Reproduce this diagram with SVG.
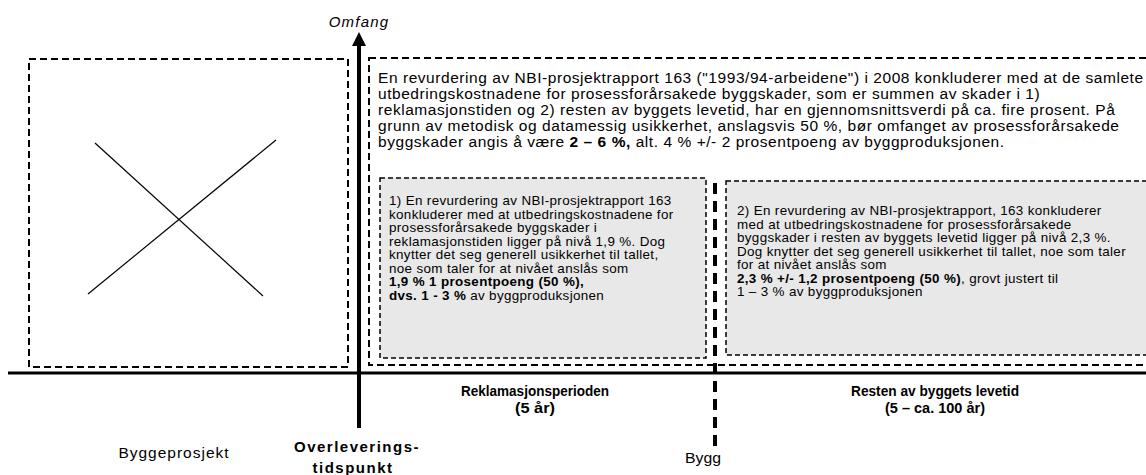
<svg xmlns="http://www.w3.org/2000/svg" width="1146" height="475" viewBox="0 0 1146 475">
<defs>
<style>
.dash{fill:none;stroke:#000;stroke-width:2;stroke-dasharray:7,4}
.gray{fill:#e8e8e8;stroke:#000;stroke-width:1.5;stroke-dasharray:5,3}
.t{font-family:"Liberation Sans",Arial,sans-serif;fill:#000}
.m{font-size:15.5px;letter-spacing:0.55px}
.s{font-size:13.4px;letter-spacing:0.35px}
.b{font-weight:bold}
.n{font-family:"Liberation Sans",Arial,sans-serif;fill:#000;font-size:15.5px;font-weight:bold}
</style>
</defs>
<rect width="1146" height="475" fill="#fff"/>
<g id="byggeprosjekt-box">
<rect class="dash" x="29" y="59" width="319" height="308"/>
<line x1="95" y1="143" x2="263" y2="296" stroke="#000" stroke-width="1.2"/>
<line x1="88" y1="294" x2="276" y2="140" stroke="#000" stroke-width="1.2"/>
</g>
<g id="main-box">
<rect class="dash" x="369" y="58" width="800" height="307"/>
<text class="t m">
<tspan x="378" y="83">En revurdering av NBI-prosjektrapport 163 ("1993/94-arbeidene") i 2008 konkluderer med at de samlete</tspan>
<tspan x="378" y="99">utbedringskostnadene for prosessforårsakede byggskader, som er summen av skader i 1)</tspan>
<tspan x="378" y="115">reklamasjonstiden og 2) resten av byggets levetid, har en gjennomsnittsverdi på ca. fire prosent. På</tspan>
<tspan x="378" y="131">grunn av metodisk og datamessig usikkerhet, anslagsvis 50 %, bør omfanget av prosessforårsakede</tspan>
<tspan x="378" y="147">byggskader angis å være <tspan class="b">2 – 6 %,</tspan> alt. 4 % +/- 2 prosentpoeng av byggproduksjonen.</tspan>
</text>
</g>
<g id="reklamasjon-box">
<rect class="gray" x="380" y="178" width="326" height="180"/>
<text class="t s">
<tspan x="389" y="205">1) En revurdering av NBI-prosjektrapport 163</tspan>
<tspan x="389" y="218.5">konkluderer med at utbedringskostnadene for</tspan>
<tspan x="389" y="232">prosessforårsakede byggskader i</tspan>
<tspan x="389" y="245.5">reklamasjonstiden ligger på nivå 1,9 %. Dog</tspan>
<tspan x="389" y="259">knytter det seg generell usikkerhet til tallet,</tspan>
<tspan x="389" y="272.5">noe som taler for at nivået anslås som</tspan>
<tspan x="389" y="286" class="b">1,9 % 1 prosentpoeng (50 %),</tspan>
<tspan x="389" y="299.5"><tspan class="b">dvs. 1 - 3 %</tspan> av byggproduksjonen</tspan>
</text>
</g>
<g id="levetid-box">
<rect class="gray" x="726" y="181" width="440" height="174"/>
<text class="t s">
<tspan x="737" y="215">2) En revurdering av NBI-prosjektrapport, 163 konkluderer</tspan>
<tspan x="737" y="228.5">med at utbedringskostnadene for prosessforårsakede</tspan>
<tspan x="737" y="242">byggskader i resten av byggets levetid ligger på nivå 2,3 %.</tspan>
<tspan x="737" y="255.5">Dog knytter det seg generell usikkerhet til tallet, noe som taler</tspan>
<tspan x="737" y="269">for at nivået anslås som</tspan>
<tspan x="737" y="282.5"><tspan class="b">2,3 % +/- 1,2 prosentpoeng (50 %)</tspan>, grovt justert til</tspan>
<tspan x="737" y="296">1 – 3 % av byggproduksjonen</tspan>
</text>
</g>
<g id="connectors">
<line x1="8" y1="373" x2="1146" y2="373" stroke="#000" stroke-width="3"/>
<line x1="359" y1="428" x2="359" y2="44" stroke="#000" stroke-width="4"/>
<polygon points="359,32 352,46 366,46" fill="#000"/>
<line x1="715" y1="183" x2="715" y2="446" stroke="#000" stroke-width="4" stroke-dasharray="11,7"/>
</g>
<g id="labels">
<text class="t" x="359" y="27" font-size="15" font-style="italic" text-anchor="middle" letter-spacing="1.2">Omfang</text>
<text class="t" x="174" y="458" font-size="15.5" text-anchor="middle" letter-spacing="1">Byggeprosjekt</text>
<text class="t b" x="357" y="452" font-size="15" text-anchor="middle" letter-spacing="1.5">Overleverings-</text>
<text class="t b" x="353" y="473" font-size="15" text-anchor="middle" letter-spacing="1.5">tidspunkt</text>
<text class="n" x="535" y="396" text-anchor="middle" textLength="148" lengthAdjust="spacingAndGlyphs">Reklamasjonsperioden</text>
<text class="n" x="535" y="413" text-anchor="middle" textLength="40" lengthAdjust="spacingAndGlyphs">(5 år)</text>
<text class="n" x="935" y="396" text-anchor="middle" textLength="168" lengthAdjust="spacingAndGlyphs">Resten av byggets levetid</text>
<text class="n" x="935" y="413" text-anchor="middle" textLength="100" lengthAdjust="spacingAndGlyphs">(5 – ca. 100 år)</text>
<text class="t" x="703" y="463" font-size="15" text-anchor="middle" textLength="36" lengthAdjust="spacingAndGlyphs">Bygg</text>
</g>
</svg>
